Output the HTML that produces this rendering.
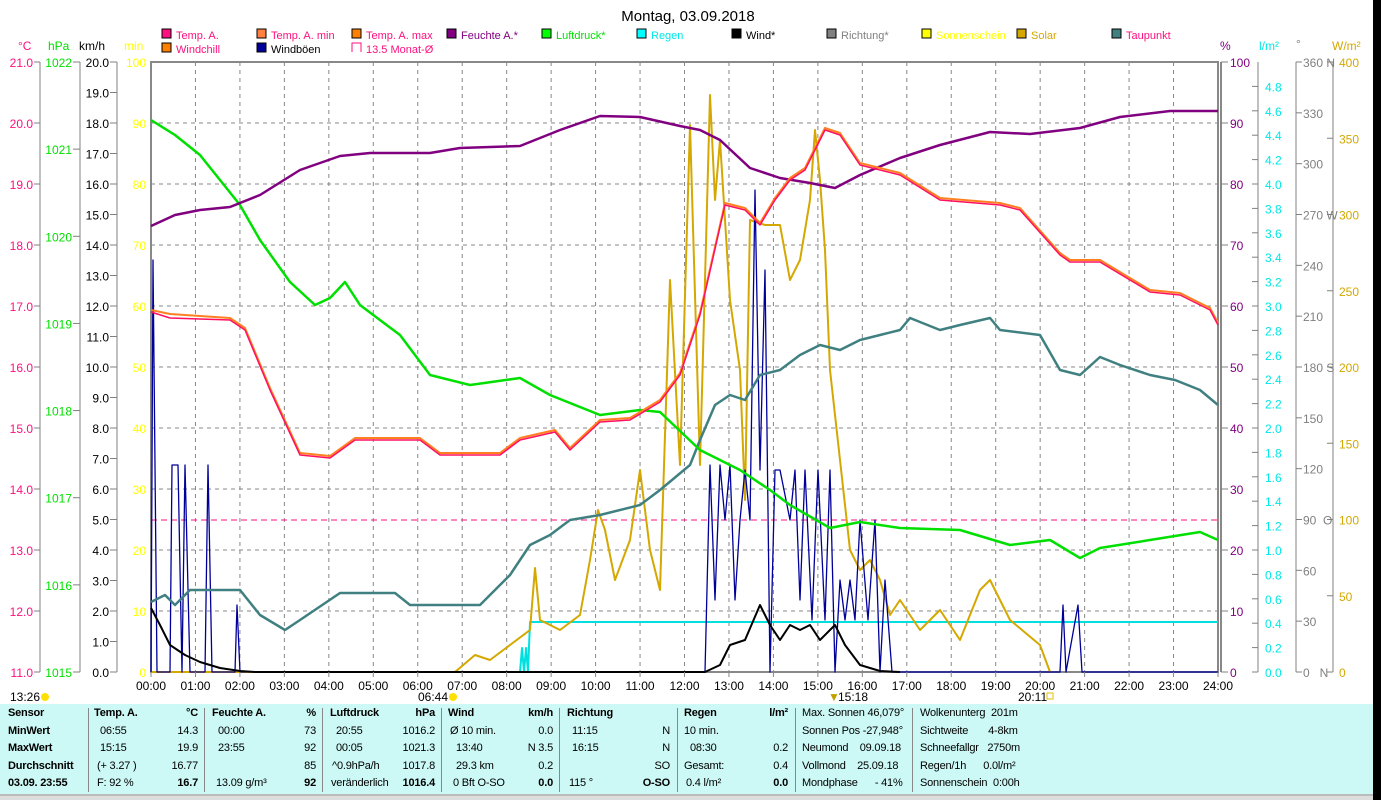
<!DOCTYPE html>
<html><head><meta charset="utf-8"><style>
body{margin:0;width:1381px;height:800px;overflow:hidden;background:#fff;font-family:"Liberation Sans",sans-serif;}
svg{position:absolute;left:0;top:0}
text{font-family:"Liberation Sans",sans-serif;font-size:12px}
#leg text{font-size:11px}
#tbl{position:absolute;left:0;top:704px;width:1373px;height:90px;background:#ccf8f5;font-size:11px;letter-spacing:-0.2px}
#tbl div{position:absolute;white-space:nowrap}
.sep{border-left:1px solid #888;top:4px;height:84px;width:0}
b{font-weight:bold}
</style></head><body>
<svg width="1381" height="800" id="s">
<rect x="1373" y="0" width="8" height="800" fill="#000"/>
<rect x="0" y="794" width="1373" height="6" fill="#ddd"/>
<line x1="0" y1="795" x2="1373" y2="795" stroke="#999"/>
<text x="688" y="21" text-anchor="middle" style="font-size:15px">Montag, 03.09.2018</text>
<g id="leg"></g>
<g id="grid"></g>
<rect x="151" y="62" width="1067" height="610" fill="none" stroke="#888" stroke-width="2"/>
<line x1="1221" y1="62" x2="1221" y2="672" stroke="#888" stroke-width="2"/>
<line x1="151" y1="520" x2="1218" y2="520" stroke="#ff1080" stroke-dasharray="6,4" stroke-width="1"/>
<g fill="none" stroke-linejoin="round">
<polyline stroke="#00e0e0" stroke-width="2" points="151,672 520,672 522,648 524,672 526,648 528,672 530,622 1218,622"/>
<polyline stroke="#d4a800" stroke-width="2" points="151,672 455,672 475,655 490,660 510,645 530,630 535,568 540,620 560,630 580,615 590,560 598,510 605,530 615,580 630,540 640,470 650,550 660,590 670,280 680,465 690,125 700,465 710,95 715,200 720,140 730,300 740,370 745,500 750,220 765,225 780,225 790,280 800,260 810,200 815,130 820,180 825,250 830,370 840,460 850,550 860,570 870,560 880,580 890,615 900,600 920,630 940,610 960,640 980,590 990,580 1010,620 1040,645 1050,672"/>
<polyline stroke="#000099" stroke-width="1.3" points="151,672 153,260 157,672 170,672 172,465 178,465 182,672 185,465 190,672 205,672 208,465 212,672 235,672 237,605 240,672 705,672 710,465 715,600 720,465 725,520 730,465 735,600 740,520 745,470 750,520 755,190 760,470 765,270 770,672 775,470 780,470 790,520 795,470 800,600 805,470 812,620 818,470 825,620 830,470 835,672 840,580 845,620 850,580 855,620 860,520 868,620 875,520 880,672 885,580 892,672 1060,672 1063,605 1066,672 1078,605 1082,672 1218,672"/>
<polyline stroke="#000" stroke-width="2" points="151,608 160,625 170,645 185,655 200,662 220,668 240,671 255,672 705,672 720,665 730,645 745,640 760,605 770,625 780,640 790,625 800,630 810,625 820,640 835,625 845,645 860,665 880,671 900,672"/>
<polyline stroke="#408080" stroke-width="2.5" points="151,602 165,595 175,605 190,590 240,590 260,615 285,630 300,620 340,593 395,593 410,605 480,605 510,575 530,545 550,535 570,520 600,515 640,505 660,490 690,465 700,440 715,405 730,395 745,400 760,375 780,370 800,355 820,345 840,350 860,340 880,335 900,330 910,318 940,330 960,325 990,318 1000,330 1040,335 1060,370 1080,375 1100,357 1120,365 1150,375 1175,380 1200,390 1218,405"/>
<polyline stroke="#00e000" stroke-width="2.5" points="151,120 175,135 200,155 220,180 240,205 260,240 290,282 315,305 330,298 345,282 360,305 400,335 430,375 470,385 520,378 550,395 600,415 640,410 660,412 700,450 740,470 770,490 790,505 830,528 860,522 900,528 960,530 1010,545 1050,540 1080,558 1100,548 1150,540 1200,532 1218,540"/>
<polyline stroke="#800080" stroke-width="2.5" points="151,226 175,215 200,210 230,207 260,195 300,170 340,156 370,153 430,153 460,148 520,146 560,130 600,116 640,117 680,126 700,130 720,140 750,168 780,178 810,183 835,188 860,175 900,158 940,145 990,132 1030,134 1080,128 1120,117 1170,111 1218,111"/>
<polyline stroke="#ff8020" stroke-width="2" points="151,310 170,314 230,318 245,328 270,388 300,453 330,456 355,438 420,438 440,453 500,453 520,438 555,430 570,448 600,420 630,418 660,400 680,373 700,313 725,203 745,208 760,223 775,198 790,178 805,168 825,128 840,133 860,163 900,173 940,198 1000,203 1020,208 1060,253 1070,260 1100,260 1150,290 1180,293 1210,308 1218,323"/>
<polyline stroke="#ff1060" stroke-width="1.5" points="151,312 170,318 230,320 245,330 270,390 300,455 330,458 355,440 420,440 440,455 500,455 520,440 555,432 570,450 600,422 630,420 660,402 680,375 700,315 725,205 745,210 760,225 775,200 790,180 805,170 825,130 840,135 860,165 900,175 940,200 1000,205 1020,210 1060,255 1070,262 1100,262 1150,292 1180,295 1210,310 1218,325"/>
</g>
<g id="ax"></g>
<text x="10" y="701">13:26</text><circle cx="45" cy="697" r="4" fill="#ffe000"/>
<text x="418" y="701">06:44</text><circle cx="453" cy="697" r="4" fill="#ffe000"/>
<text x="838" y="701">15:18</text><text x="828" y="701" fill="#c0a000">▼</text>
<text x="1018" y="701">20:11</text><rect x="1047" y="693" width="6" height="6" fill="none" stroke="#e0c000"/>
</svg>
<div id="tbl">
<div class="sep" style="left:88px"></div><div class="sep" style="left:204px"></div><div class="sep" style="left:322px"></div><div class="sep" style="left:441px"></div><div class="sep" style="left:559px"></div><div class="sep" style="left:677px"></div><div class="sep" style="left:795px"></div><div class="sep" style="left:912px"></div>
</div>
<script>
var NS="http://www.w3.org/2000/svg";
function T(g,x,y,s,c,a,extra){var t=document.createElementNS(NS,"text");t.setAttribute("x",x);t.setAttribute("y",y);t.setAttribute("fill",c||"#000");if(a)t.setAttribute("text-anchor",a);if(extra)t.setAttribute("style",extra);t.textContent=s;g.appendChild(t);}
function L(g,x1,y1,x2,y2,c,d,w){var l=document.createElementNS(NS,"line");l.setAttribute("x1",x1);l.setAttribute("y1",y1);l.setAttribute("x2",x2);l.setAttribute("y2",y2);l.setAttribute("stroke",c);l.setAttribute("stroke-width",w||1);if(d)l.setAttribute("stroke-dasharray",d);g.appendChild(l);}
var g=document.getElementById("grid"),ax=document.getElementById("ax"),lg=document.getElementById("leg");
for(var h=1;h<24;h++){var x=151+h*1067/24;L(g,x,62,x,672,"#888","4,4");}
for(var k=1;k<10;k++){var y=62+k*61;L(g,151,y,1218,y,"#888","4,4");}
for(var h=0;h<=24;h++){var x=151+h*1067/24;L(ax,x,672,x,677,"#888");T(ax,x,690,(h<10?"0":"")+h+":00","#000","middle");}
var PK="#ff1080",GR="#00e000",YL="#ffff00",PU="#800080",CY="#00e8e8",GY="#808080",GD="#d4a800";
L(ax,40,62,40,672,GY);for(var k=0;k<=10;k++){var y=62+k*61;L(ax,34,y,40,y,GY);T(ax,33,y+5,(21-k).toFixed(1),PK,"end");}
L(ax,80,62,80,672,GY);for(var k=0;k<=7;k++){var y=62+k*610/7;L(ax,73,y,80,y,GY);T(ax,72,y+5,1022-k,GR,"end");}
L(ax,117,62,117,672,GY);for(var k=0;k<=20;k++){var y=62+k*30.5;L(ax,110,y,117,y,GY);T(ax,109,y+5,(20-k).toFixed(1),"#000","end");}
for(var k=0;k<=10;k++){var y=62+k*61;T(ax,146,y+5,100-k*10,YL,"end");}
for(var k=0;k<=10;k++){var y=62+k*61;L(ax,1221,y,1228,y,GY);T(ax,1230,y+5,100-k*10,PU);}
L(ax,1258,62,1258,672,GY);for(var k=0;k<=24;k++){var y=672-k*24.4;L(ax,1252,y,1258,y,GY);T(ax,1265,y+5,(k*0.2).toFixed(1),CY);}
L(ax,1296,62,1296,672,GY);var dl={0:"0   N",90:"90  O",180:"180 S",270:"270 W",360:"360 N"};for(var k=0;k<=12;k++){var y=672-k*610/12;L(ax,1296,y,1302,y,GY);T(ax,1303,y+5,dl[k*30]||k*30,GY,null,"white-space:pre");}
L(ax,1333,62,1333,672,GY);for(var k=0;k<=8;k++){var y=672-k*76.25;L(ax,1327,y,1333,y,GY);T(ax,1339,y+5,k*50,GD);}
T(ax,18,50,"°C",PK);T(ax,48,50,"hPa",GR);T(ax,79,50,"km/h","#000");T(ax,124,50,"min",YL);
T(ax,1220,50,"%",PU);T(ax,1259,50,"l/m²",CY);T(ax,1296,48,"°",GY);T(ax,1332,50,"W/m²",GD);
var items=[[162,38,"#ff1080","Temp. A.",PK],[257,38,"#ff8040","Temp. A. min",PK],[352,38,"#ff8000","Temp. A. max",PK],[447,38,"#800080","Feuchte A.*",PU],[542,38,"#00ff00","Luftdruck*",GR],[637,38,"#00ffff","Regen",CY],[732,38,"#000","Wind*","#000"],[827,38,"#808080","Richtung*",GY],[922,38,"#ffff00","Sonnenschein",YL],[1017,38,"#d4a800","Solar",GD],[1112,38,"#408080","Taupunkt",PK],[162,52,"#ff8000","Windchill",PK],[257,52,"#000099","Windböen","#000"]];
items.forEach(function(i){var r=document.createElementNS(NS,"rect");r.setAttribute("x",i[0]);r.setAttribute("y",i[1]-9);r.setAttribute("width",9);r.setAttribute("height",9);r.setAttribute("fill",i[2]);r.setAttribute("stroke","#000");lg.appendChild(r);T(lg,i[0]+14,i[1]+1,i[3],i[4]);});
var r=document.createElementNS(NS,"path");r.setAttribute("d","M352,52 V43 H361 V52");r.setAttribute("fill","none");r.setAttribute("stroke",PK);lg.appendChild(r);T(lg,366,53,"13.5 Monat-Ø",PK);
var tb=document.getElementById("tbl");
function D(x,y,s,a,bold){var d=document.createElement("div");d.style.top=(y-704-10)+"px";if(a=="r"){d.style.right=(1373-x)+"px";}else d.style.left=x+"px";d.innerHTML=bold?"<b>"+s+"</b>":s;tb.appendChild(d);}
var R=[717,735,752,770,787];
["Sensor","MinWert","MaxWert","Durchschnitt","03.09. 23:55"].forEach(function(s,i){D(8,R[i],s,null,true)});
D(94,R[0],"Temp. A.",null,1);D(198,R[0],"°C","r",1);D(100,R[1],"06:55");D(198,R[1],"14.3","r");D(100,R[2],"15:15");D(198,R[2],"19.9","r");D(97,R[3],"(+ 3.27 )");D(198,R[3],"16.77","r");D(97,R[4],"F: 92 %");D(198,R[4],"16.7","r",1);
D(212,R[0],"Feuchte A.",null,1);D(316,R[0],"%","r",1);D(218,R[1],"00:00");D(316,R[1],"73","r");D(218,R[2],"23:55");D(316,R[2],"92","r");D(316,R[3],"85","r");D(216,R[4],"13.09 g/m³");D(316,R[4],"92","r",1);
D(330,R[0],"Luftdruck",null,1);D(435,R[0],"hPa","r",1);D(336,R[1],"20:55");D(435,R[1],"1016.2","r");D(336,R[2],"00:05");D(435,R[2],"1021.3","r");D(332,R[3],"^0.9hPa/h");D(435,R[3],"1017.8","r");D(331,R[4],"veränderlich");D(435,R[4],"1016.4","r",1);
D(448,R[0],"Wind",null,1);D(553,R[0],"km/h","r",1);D(450,R[1],"Ø 10 min.");D(553,R[1],"0.0","r");D(456,R[2],"13:40");D(553,R[2],"N 3.5","r");D(456,R[3],"29.3 km");D(553,R[3],"0.2","r");D(453,R[4],"0 Bft O-SO");D(553,R[4],"0.0","r",1);
D(567,R[0],"Richtung",null,1);D(572,R[1],"11:15");D(670,R[1],"N","r");D(572,R[2],"16:15");D(670,R[2],"N","r");D(670,R[3],"SO","r");D(569,R[4],"115 °");D(670,R[4],"O-SO","r",1);
D(684,R[0],"Regen",null,1);D(788,R[0],"l/m²","r",1);D(684,R[1],"10 min.");D(690,R[2],"08:30");D(788,R[2],"0.2","r");D(684,R[3],"Gesamt:");D(788,R[3],"0.4","r");D(686,R[4],"0.4 l/m²");D(788,R[4],"0.0","r",1);
D(802,R[0],"Max. Sonnen 46,079°");D(802,R[1],"Sonnen Pos -27,948°");D(802,R[2],"Neumond&nbsp;&nbsp;&nbsp; 09.09.18");D(802,R[3],"Vollmond&nbsp;&nbsp;&nbsp; 25.09.18");D(802,R[4],"Mondphase&nbsp;&nbsp;&nbsp;&nbsp;&nbsp; - 41%");
D(920,R[0],"Wolkenunterg&nbsp; 201m");D(920,R[1],"Sichtweite&nbsp;&nbsp;&nbsp;&nbsp;&nbsp;&nbsp; 4-8km");D(920,R[2],"Schneefallgr&nbsp;&nbsp; 2750m");D(920,R[3],"Regen/1h&nbsp;&nbsp;&nbsp;&nbsp;&nbsp; 0.0l/m²");D(920,R[4],"Sonnenschein&nbsp; 0:00h");
</script>
</body></html>
